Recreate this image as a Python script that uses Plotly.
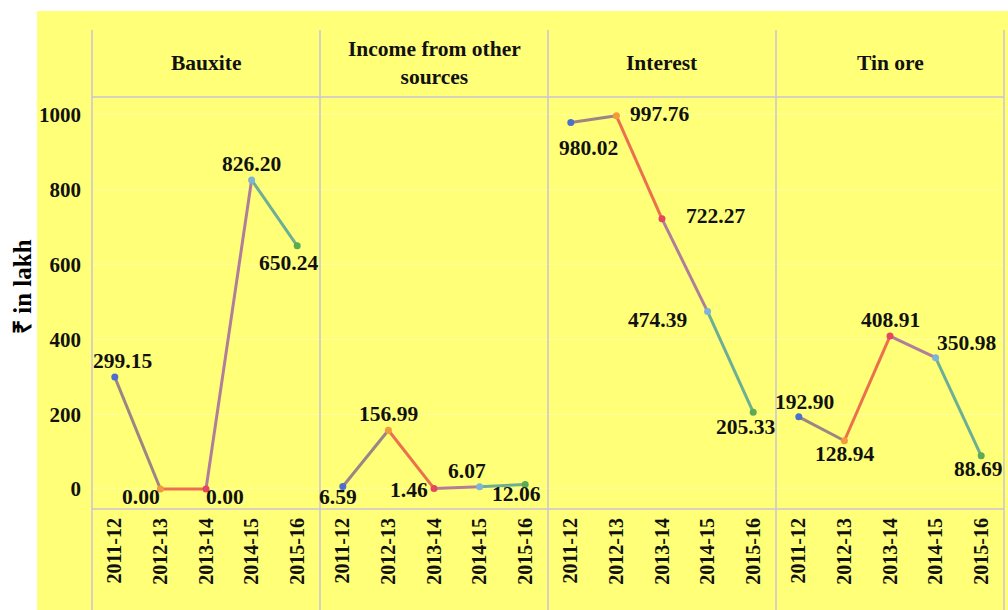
import plotly.graph_objects as go

# ---------------- data ----------------
years = ["2011-12", "2012-13", "2013-14", "2014-15", "2015-16"]
panels = ["Bauxite", "Income from other<br>sources", "Interest", "Tin ore"]
bauxite = [299.15, 0.00, 0.00, 826.20, 650.24]
income_other = [6.59, 156.99, 1.46, 6.07, 12.06]
interest = [980.02, 997.76, 722.27, 474.39, 205.33]
tin_ore = [192.90, 128.94, 408.91, 350.98, 88.69]
series = [bauxite, income_other, interest, tin_ore]
y_ticks = [0, 200, 400, 600, 800, 1000]

# ---------------- style ----------------
point_colors = ["#4A6FCF", "#F39A3C", "#E5465F", "#7DB4D8", "#5DAA55"]
# label offsets in pixels (dx right, dy down) per panel / point
label_offsets = [
    [(8, -16), (-19, 8), (19, 8), (0, -16), (-9, 17)],
    [(-5, 10), (0, -16), (-25, 2), (-13, -16), (-9, 10)],
    [(18, 26), (43, -2), (53, -3), (-50, 8), (-8, 15)],
    [(6, -15), (0, 13), (0, -16), (31, -15), (-3, 13)],
]
FONT = "Liberation Serif, Times New Roman, serif"
YELLOW = "#FFFF78"
BORDER = "#C9C3D6"

W, H = 1008, 610
L, R, T, B = 92, 4, 97, 101
PW, PH = W - L - R, H - T - B


def px_x(px):
    return (px - L) / PW


def px_y(py):
    return (H - B - py) / PH


def blend(c1, c2):
    a = [int(c1[i:i + 2], 16) for i in (1, 3, 5)]
    b = [int(c2[i:i + 2], 16) for i in (1, 3, 5)]
    return "#%02x%02x%02x" % tuple((u + v) // 2 for u, v in zip(a, b))


fig = go.Figure()
annotations = []
n = len(panels)
for p, vals in enumerate(series):
    xa = "x" if p == 0 else f"x{p + 1}"
    # coloured segments
    for i in range(len(years) - 1):
        fig.add_trace(go.Scatter(
            x=[years[i], years[i + 1]], y=[vals[i], vals[i + 1]],
            mode="lines", xaxis=xa, yaxis="y",
            line=dict(color=blend(point_colors[i], point_colors[i + 1]), width=3),
            hoverinfo="skip", showlegend=False))
    fig.add_trace(go.Scatter(
        x=years, y=vals, mode="markers", xaxis=xa, yaxis="y",
        marker=dict(color=point_colors, size=7),
        showlegend=False))
    for i, v in enumerate(vals):
        dx, dy = label_offsets[p][i]
        annotations.append(dict(
            x=years[i], y=v, xref=xa, yref="y", text=f"{v:.2f}",
            showarrow=False, xshift=dx, yshift=-dy,
            xanchor="center", yanchor="middle",
            font=dict(family=FONT, size=21.5, color="#111111", weight="bold")))
    # panel header
    annotations.append(dict(
        x=(p + 0.5) / n, y=px_y(63), xref="paper", yref="paper",
        text=panels[p], showarrow=False, xanchor="center", yanchor="middle",
        font=dict(family=FONT, size=21.5, color="#111111", weight="bold")))

annotations.append(dict(
    x=px_x(22), y=px_y(287), xref="paper", yref="paper", text="₹ in lakh",
    textangle=-90, showarrow=False, xanchor="center", yanchor="middle",
    font=dict(family=FONT, size=25, color="#000000", weight="bold")))

layout = dict(
    width=W, height=H,
    margin=dict(l=L, r=R, t=T, b=B),
    paper_bgcolor="white", plot_bgcolor=YELLOW,
    font=dict(family=FONT, color="#111111"),
    yaxis=dict(range=[-53.5, 1048], tickvals=y_ticks, showline=False,
               zeroline=False, gridcolor="rgba(255,255,255,0.3)", gridwidth=1,
               ticklabelstandoff=10,
               tickfont=dict(family=FONT, size=21, color="#111111", weight="bold")),
    annotations=annotations,
    showlegend=False,
)
for p in range(n):
    key = "xaxis" if p == 0 else f"xaxis{p + 1}"
    layout[key] = dict(
        domain=[p / n, (p + 1) / n], anchor="y", type="category",
        categoryorder="array", categoryarray=years, range=[-0.5, 4.5],
        tickangle=-90, showgrid=False, zeroline=False, showline=False,
        ticklabelstandoff=4,
        tickfont=dict(family=FONT, size=20, color="#111111", weight="bold"))

shapes = [dict(type="rect", xref="paper", yref="paper",
               x0=px_x(37), x1=px_x(W + 5), y0=px_y(H + 5), y1=px_y(11),
               fillcolor=YELLOW, line=dict(width=0), layer="below")]
for p in range(n + 1):
    shapes.append(dict(type="line", xref="paper", yref="paper",
                       x0=p / n, x1=p / n, y0=px_y(H + 5), y1=px_y(30),
                       line=dict(color=BORDER, width=1.5), layer="above"))
for yy in (0, 1):
    shapes.append(dict(type="line", xref="paper", yref="paper",
                       x0=0, x1=1, y0=yy, y1=yy,
                       line=dict(color=BORDER, width=1.5), layer="above"))
layout["shapes"] = shapes

fig.update_layout(**layout)
fig.write_html("out.html")
